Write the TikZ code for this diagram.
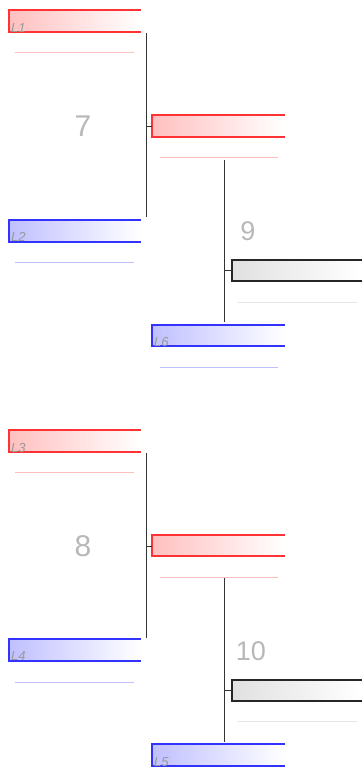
\documentclass[tikz,border=0pt]{standalone}
\usepackage{fontspec}
\setmainfont{Liberation Sans}
\begin{document}
\begin{tikzpicture}[x=1pt,y=-1pt,
  redline/.style={draw=red!80,line width=1.2pt},
  blueline/.style={draw=blue!80,line width=1.2pt},
  grayline/.style={draw=black!85,line width=1.2pt},
  redfill/.style={left color=red!25,right color=white},
  bluefill/.style={left color=blue!25,right color=white},
  grayfill/.style={left color=black!12,right color=white},
  uline/.style={line width=0.8pt},
  conn/.style={draw=black!80,line width=1pt},
  lbl/.style={font=\fontsize{13}{13}\selectfont\itshape,text=black!40,anchor=base west,inner sep=0pt},
  num/.style={font=\fontsize{30}{30}\selectfont,text=black!28,inner sep=0pt}
]
\useasboundingbox (0,0) rectangle (362,782);

% ---- upper group ----
\fill[redfill] (9,10) rectangle (141,32);
\draw[redline] (141,10) -- (9,10) -- (9,32) -- (141,32);
\node[lbl] (l1) at (11,32) {L1};
\draw[uline,red!25] (15,52) -- (134,52);

\fill[bluefill] (9,220) rectangle (141,242);
\draw[blueline] (141,220) -- (9,220) -- (9,242) -- (141,242);
\node[lbl] (l2) at (11,241) {L2};
\draw[uline,blue!25] (15,262) -- (134,262);

\fill[redfill] (152,115) rectangle (285,137);
\draw[redline] (285,115) -- (152,115) -- (152,137) -- (285,137);
\draw[uline,red!25] (160,157) -- (278,157);

\fill[bluefill] (152,325) rectangle (285,346);
\draw[blueline] (285,325) -- (152,325) -- (152,346) -- (285,346);
\node[lbl] (l6) at (154,346) {L6};
\draw[uline,blue!25] (160,367) -- (278,367);

\fill[grayfill] (232,260) rectangle (362,281);
\draw[grayline] (362,260) -- (232,260) -- (232,281) -- (362,281);
\draw[uline,black!10] (238,302) -- (357,302);

\coordinate (a1) at (146,33);
\coordinate (a2) at (146,217);
\coordinate (am) at (146,126);
\coordinate (at) at (152,126);
\draw[conn] (a1) -- (a2);
\draw[conn] (am) -- (at);
\coordinate (b1) at (224,160);
\coordinate (b2) at (224,322);
\coordinate (bm) at (224,270);
\coordinate (bt) at (232,270);
\draw[conn] (b1) -- (b2);
\draw[conn] (bm) -- (bt);
\node[num] (n7) at (83,126) {7};
\node[num,font=\fontsize{27}{27}\selectfont] (n9) at (248,231) {9};

% ---- lower group ----
\fill[redfill] (9,430) rectangle (141,452);
\draw[redline] (141,430) -- (9,430) -- (9,452) -- (141,452);
\node[lbl] (l3) at (11,452) {L3};
\draw[uline,red!25] (15,472) -- (134,472);

\fill[bluefill] (9,639) rectangle (141,661);
\draw[blueline] (141,639) -- (9,639) -- (9,661) -- (141,661);
\node[lbl] (l4) at (11,660) {L4};
\draw[uline,blue!25] (15,682) -- (134,682);

\fill[redfill] (152,535) rectangle (285,556);
\draw[redline] (285,535) -- (152,535) -- (152,556) -- (285,556);
\draw[uline,red!25] (160,577) -- (278,577);

\fill[bluefill] (152,744) rectangle (285,766);
\draw[blueline] (285,744) -- (152,744) -- (152,766) -- (285,766);
\node[lbl] (l5) at (154,766) {L5};

\fill[grayfill] (232,680) rectangle (362,701);
\draw[grayline] (362,680) -- (232,680) -- (232,701) -- (362,701);
\draw[uline,black!10] (238,721) -- (357,721);

\coordinate (c1) at (146,453);
\coordinate (c2) at (146,638);
\coordinate (cm) at (146,546);
\coordinate (ct) at (152,546);
\draw[conn] (c1) -- (c2);
\draw[conn] (cm) -- (ct);
\coordinate (d1) at (224,578);
\coordinate (d2) at (224,742);
\coordinate (dm) at (224,690);
\coordinate (dt) at (232,690);
\draw[conn] (d1) -- (d2);
\draw[conn] (dm) -- (dt);
\node[num] (n8) at (83,546) {8};
\node[num,font=\fontsize{27}{27}\selectfont] (n10) at (251,651) {10};
\end{tikzpicture}
\end{document}
